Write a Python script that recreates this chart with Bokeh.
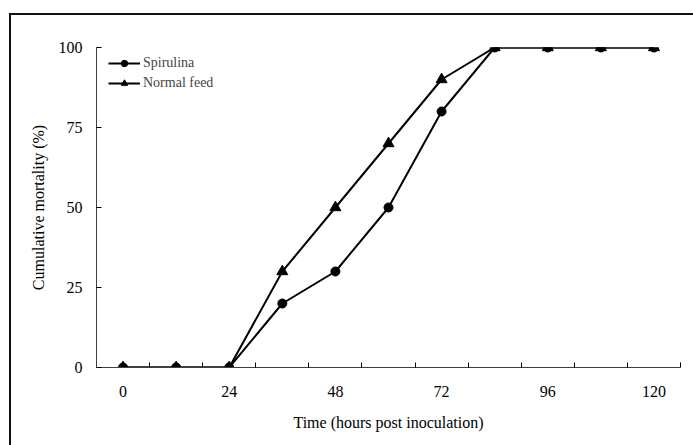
from bokeh.plotting import figure
from bokeh.models import FixedTicker, Legend, LegendItem, Range1d, InlineStyleSheet
from bokeh.embed import file_html
from bokeh.resources import INLINE

hours = [0, 12, 24, 36, 48, 60, 72, 84, 96, 108, 120]
spirulina = [0, 0, 0, 20, 30, 50, 80, 100, 100, 100, 100]
normal_feed = [0, 0, 0, 30, 50, 70, 90, 100, 100, 100, 100]
x_labels = [0, 24, 48, 72, 96, 120]
x_bounds = [-6, 6, 18, 30, 42, 54, 66, 78, 90, 102, 114, 126]
y_ticks = [0, 25, 50, 75, 100]

FONT = "Liberation Serif"

# outer chart border: only its top and left edges fall inside the window
border_css = InlineStyleSheet(css="""
:host::before {
  content: '';
  position: absolute;
  z-index: 50;
  left: 9px;
  top: 13px;
  width: 684px;
  height: 2px;
  background: #111;
  pointer-events: none;
}
:host::after {
  content: '';
  position: absolute;
  z-index: 50;
  left: 9px;
  top: 13px;
  width: 2px;
  height: 432px;
  background: #111;
  pointer-events: none;
}
""")

p = figure(width=693, height=445, output_backend="svg", toolbar_location=None,
           x_range=Range1d(-6, 126), y_range=Range1d(0, 100),
           min_border_left=96, min_border_right=13, min_border_top=47, min_border_bottom=78,
           stylesheets=[border_css])
p.outline_line_color = None
p.xgrid.visible = False
p.ygrid.visible = False

l1 = p.line(hours, spirulina, line_color="black", line_width=2)
m1 = p.scatter(hours, spirulina, marker="circle", size=9, fill_color="black", line_color="black")
l2 = p.line(hours, normal_feed, line_color="black", line_width=2)
m2 = p.scatter(hours, normal_feed, marker="triangle", size=11, fill_color="black", line_color="black")

xa = p.xaxis[0]
xa.ticker = FixedTicker(ticks=x_labels, minor_ticks=x_bounds)
xa.major_tick_in = 0
xa.major_tick_out = 0
xa.minor_tick_in = 5
xa.minor_tick_out = 0
xa.minor_tick_line_color = "black"
xa.axis_line_color = "#404040"
xa.axis_label = "Time (hours post inoculation)"
xa.major_label_standoff = 18
xa.axis_label_standoff = 14

ya = p.yaxis[0]
ya.ticker = FixedTicker(ticks=y_ticks)
ya.major_tick_in = 5
ya.major_tick_out = 0
ya.minor_tick_line_color = None
ya.axis_line_color = "#404040"
ya.axis_label = "Cumulative mortality (%)"
ya.major_label_standoff = 14
ya.axis_label_standoff = 9

for ax in (xa, ya):
    ax.major_label_text_font = FONT
    ax.major_label_text_font_size = "16px"
    ax.major_label_text_color = "black"
    ax.axis_label_text_font = FONT
    ax.axis_label_text_font_size = "16px"
    ax.axis_label_text_font_style = "normal"
    ax.axis_label_text_color = "black"
    ax.major_tick_line_color = "black"

legend = Legend(items=[LegendItem(label="Spirulina", renderers=[l1, m1]),
                       LegendItem(label="Normal feed", renderers=[l2, m2])],
                location=(12, 276), padding=0, margin=0, spacing=4,
                glyph_width=32, glyph_height=16, label_height=16, label_standoff=3,
                label_text_font=FONT, label_text_font_size="14px",
                background_fill_alpha=0, border_line_color=None)
p.add_layout(legend)

open("out.html", "w").write(file_html(p, INLINE))
